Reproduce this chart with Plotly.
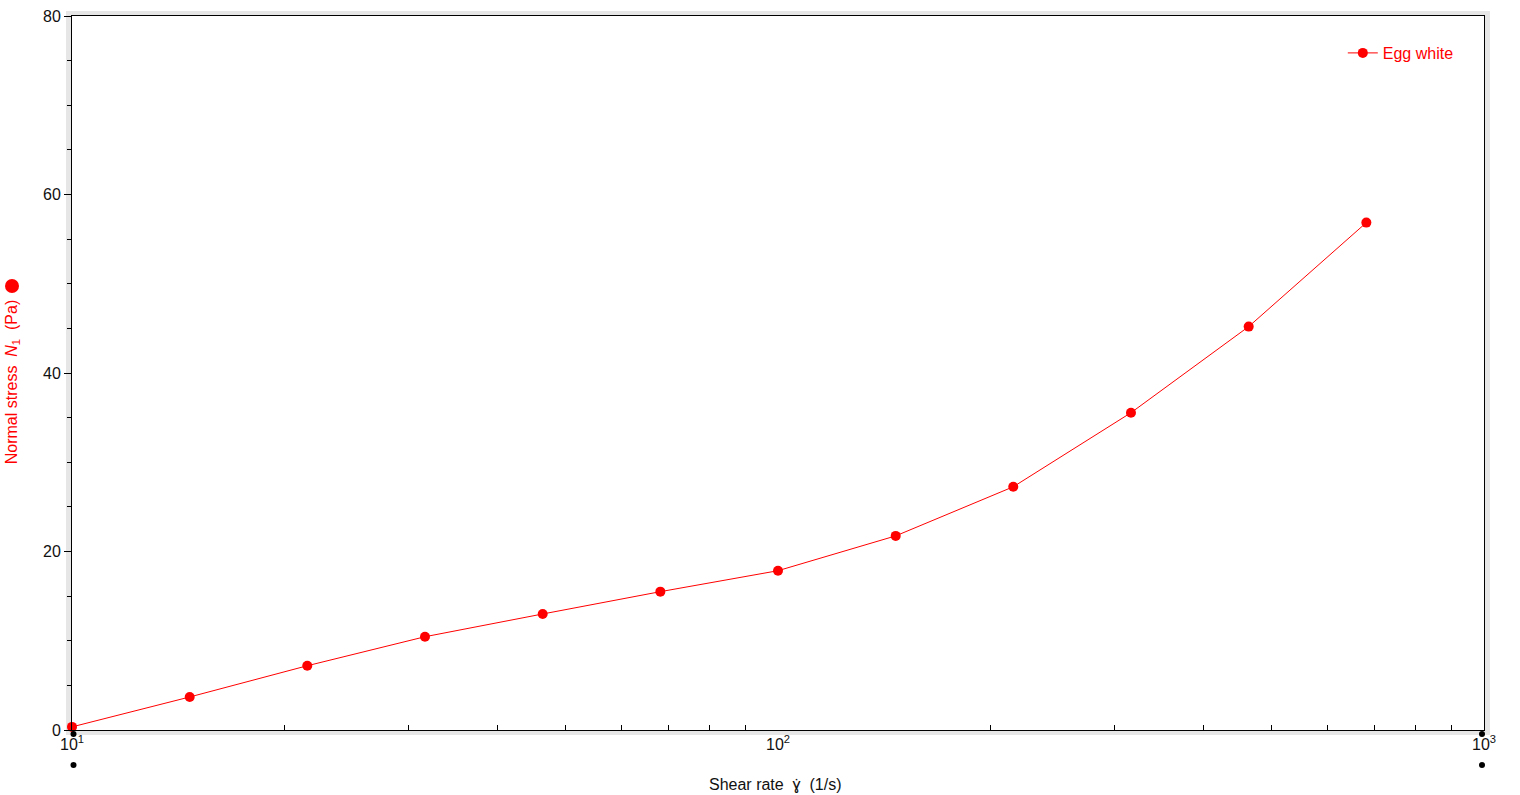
import plotly.graph_objects as go

# ---- data ----
shear_rate = [10.0, 14.68, 21.54, 31.62, 46.42, 68.13, 100.0, 146.8, 215.4, 316.2, 464.2, 681.3]
normal_stress = [0.35, 3.7, 7.2, 10.45, 13.0, 15.5, 17.85, 21.75, 27.25, 35.55, 45.2, 56.85]
series_name = "Egg white"

x_tick_vals = [10, 100, 1000]
x_tick_text = ["10<sup>1</sup>", "10<sup>2</sup>", "10<sup>3</sup>"]
x_minor_vals = [20, 30, 40, 50, 60, 70, 80, 90, 200, 300, 400, 500, 600, 700, 800, 900]
y_tick_vals = [0, 20, 40, 60, 80]

x_title = "Shear rate  ɣ̇  (1/s)"
y_title = "Normal stress  <i>N</i><sub>1</sub>  (Pa)"

RED = "#ff0000"
FONT = "Liberation Sans, Arial, sans-serif"

W, H = 1520, 795
L, R, T, B = 72, 36, 16, 65
pw, ph = W - L - R, H - T - B

fig = go.Figure()

fig.add_trace(go.Scatter(
    x=shear_rate, y=normal_stress, mode="lines+markers", name=series_name,
    line=dict(color=RED, width=1),
    marker=dict(color=RED, size=10),
    cliponaxis=False,
))

# grey frame shadow + white plot area
sx, sy = 6 / pw, 5 / ph
fig.add_shape(type="rect", xref="paper", yref="paper", x0=-sx, x1=1 + sx, y0=-sy, y1=1 + sy,
              fillcolor="#e6e6e6", line=dict(width=0), layer="below")
fig.add_shape(type="rect", xref="paper", yref="paper", x0=0, x1=1, y0=0, y1=1,
              fillcolor="white", line=dict(width=0), layer="below")

# decorative black dots at the x-axis ends (as in the original export)
for xa, dx in ((0.0, 1.5), (1.0, -2.0)):
    for off in (4, 35):
        fig.add_shape(type="circle", xref="paper", yref="paper",
                      xsizemode="pixel", ysizemode="pixel",
                      xanchor=xa, yanchor=-off / ph,
                      x0=dx - 3, x1=dx + 3, y0=-3, y1=3,
                      fillcolor="black", line=dict(width=0), layer="above")

# series symbol next to the y-axis title
fig.add_shape(type="circle", xref="paper", yref="paper",
              xsizemode="pixel", ysizemode="pixel",
              xanchor=-60 / pw, yanchor=1 - (286 - T) / ph,
              x0=-7, x1=7, y0=-7, y1=7,
              fillcolor=RED, line=dict(width=0), layer="above")

# axis titles as positioned annotations
fig.add_annotation(text=x_title, xref="paper", yref="paper", x=0.498, y=-54 / ph,
                   xanchor="center", yanchor="middle", showarrow=False,
                   font=dict(size=16, family=FONT, color="#111111"))
fig.add_annotation(text=y_title, xref="paper", yref="paper", x=-60 / pw, y=0.487,
                   xanchor="center", yanchor="middle", showarrow=False, textangle=-90,
                   font=dict(size=16, family=FONT, color=RED))

fig.update_layout(
    width=W, height=H,
    margin=dict(l=L, r=R, t=T, b=B),
    paper_bgcolor="white", plot_bgcolor="rgba(0,0,0,0)",
    font=dict(family=FONT, size=16, color="#111111"),
    showlegend=True,
    legend=dict(x=0.900, y=0.972, xanchor="left", yanchor="top",
                bgcolor="rgba(0,0,0,0)", font=dict(color=RED, size=16, family=FONT),
                itemwidth=30),
    xaxis=dict(
        type="log", range=[1, 3], automargin=False, ticklabeloverflow="allow",
        tickmode="array", tickvals=x_tick_vals, ticktext=x_tick_text,
        ticks="", showgrid=False, zeroline=False,
        showline=True, linecolor="black", linewidth=1, mirror=True,
        minor=dict(tickmode="array", tickvals=x_minor_vals, ticks="inside",
                   ticklen=5, tickcolor="black", showgrid=False),
        tickfont=dict(size=16, family=FONT),
    ),
    yaxis=dict(
        range=[0, 80], automargin=False, ticklabeloverflow="allow",
        tickmode="array", tickvals=y_tick_vals,
        ticks="outside", ticklen=7, tickcolor="black",
        showgrid=False, zeroline=False,
        showline=True, linecolor="black", linewidth=1, mirror=True,
        minor=dict(dtick=5, ticks="outside", ticklen=4, tickcolor="black", showgrid=False),
        tickfont=dict(size=16, family=FONT),
    ),
)

fig.write_html("out.html", config={"displayModeBar": False},
               post_script="document.body.style.margin='0';")
